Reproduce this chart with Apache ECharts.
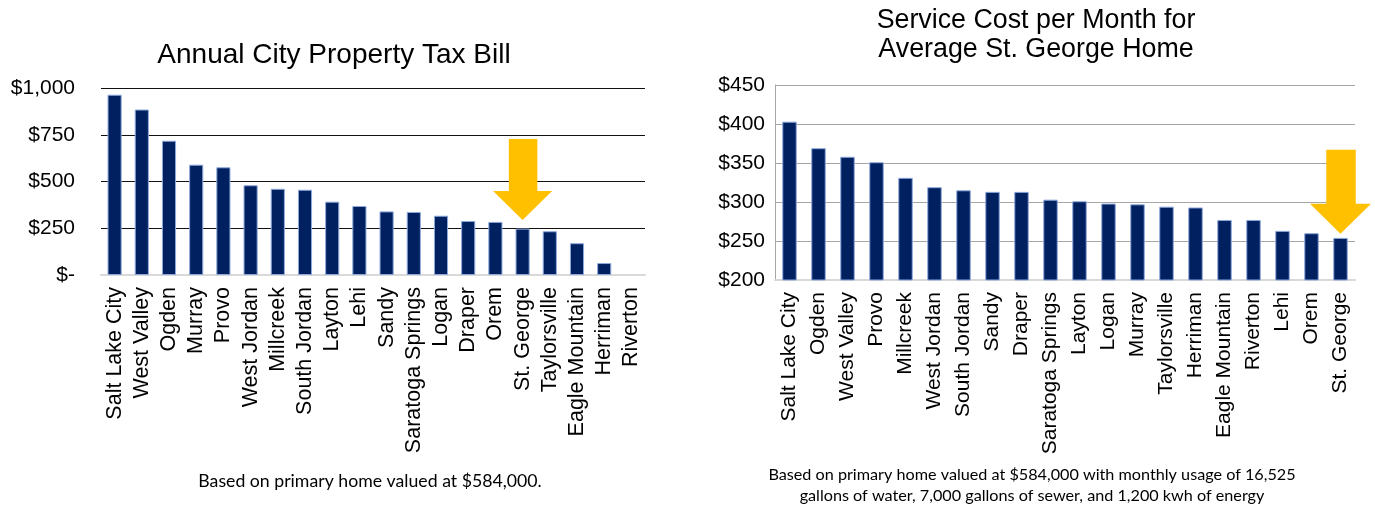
<!DOCTYPE html>
<html>
<head>
<meta charset="utf-8">
<script src="https://cdn.jsdelivr.net/npm/echarts@6/dist/echarts.min.js"></script>
<style>
html,body{margin:0;padding:0;background:#fff;}
#chart{width:1375px;height:508px;}
</style>
</head>
<body>
<div id="chart"></div>
<script>
// ---- Data ----
const taxCities = ['Salt Lake City','West Valley','Ogden','Murray','Provo','West Jordan','Millcreek','South Jordan','Layton','Lehi','Sandy','Saratoga Springs','Logan','Draper','Orem','St. George','Taylorsville','Eagle Mountain','Herriman','Riverton'];
const taxValues = [964, 885, 718, 590, 576, 480, 461, 456, 392, 369, 340, 337, 317, 289, 284, 248, 234, 170, 64, 0];
const taxTicks = [0, 250, 500, 750, 1000];

const costCities = ['Salt Lake City','Ogden','West Valley','Provo','Millcreek','West Jordan','South Jordan','Sandy','Draper','Saratoga Springs','Layton','Logan','Murray','Taylorsville','Herriman','Eagle Mountain','Riverton','Lehi','Orem','St. George'];
const costValues = [403, 369, 358, 351, 331, 319, 315, 313, 313, 303, 301, 298, 297, 294, 293, 277, 277, 263, 260, 254];
const costTicks = [200, 250, 300, 350, 400, 450];

const highlightCity = 'St. George';

// ---- Chart ----
const chart = echarts.init(document.getElementById('chart'), null, {renderer: 'canvas'});
const FONT = '"Liberation Sans", Arial, sans-serif';
const NOTE_FONT = 'Lato, "Open Sans", sans-serif';
const arrowPath = 'path://M16,0 L45,0 L45,54 L60,54 L30,84 L0,54 L16,54 Z';

function money(v) {
  return v === 0 ? '$-' : '$' + v.toLocaleString('en-US');
}
function barItems(values) {
  return values.map(v => v === 0 ? {value: v, itemStyle: {borderWidth: 0}} : v);
}

const option = {
  backgroundColor: '#ffffff',
  animation: false,
  title: [
    {text: 'Annual City Property Tax Bill', left: 329, top: 36, textAlign: 'center',
     textStyle: {fontFamily: FONT, fontSize: 28, fontWeight: 'normal', color: '#000', lineHeight: 28}},
    {text: 'Service Cost per Month for\nAverage St. George Home', left: 1031, top: 1, textAlign: 'center',
     textStyle: {fontFamily: FONT, fontSize: 26.8, fontWeight: 'normal', color: '#000', lineHeight: 29}},
    {text: 'Based on primary home valued at $584,000.', left: 365, top: 467, textAlign: 'center',
     textStyle: {fontFamily: NOTE_FONT, fontSize: 17.7, fontWeight: 'normal', color: '#000', lineHeight: 18}},
    {text: 'Based on primary home valued at $584,000 with monthly usage of 16,525\ngallons of water, 7,000 gallons of sewer, and 1,200 kwh of energy',
     left: 1027, top: 459, textAlign: 'center',
     textStyle: {fontFamily: NOTE_FONT, fontSize: 16.2, fontWeight: 'normal', color: '#000', lineHeight: 21}}
  ],
  grid: [
    {left: 101, top: 88, width: 544, height: 187, containLabel: false},
    {left: 775, top: 85, width: 580, height: 195, containLabel: false}
  ],
  xAxis: [
    {type: 'category', gridIndex: 0, data: taxCities,
     axisLine: {show: true, lineStyle: {color: '#d9d9d9', width: 2}},
     axisTick: {show: false},
     axisLabel: {rotate: 90, interval: 0, margin: 12, fontFamily: FONT, fontSize: 21.5, color: '#000'}},
    {type: 'category', gridIndex: 1, data: costCities,
     axisLine: {show: true, lineStyle: {color: '#d9d9d9', width: 2}},
     axisTick: {show: false},
     axisLabel: {rotate: 90, interval: 0, margin: 12, fontFamily: FONT, fontSize: 21, color: '#000'}}
  ],
  yAxis: [
    {type: 'value', gridIndex: 0, min: taxTicks[0], max: taxTicks[taxTicks.length - 1], interval: taxTicks[1] - taxTicks[0],
     axisLine: {show: false}, axisTick: {show: false},
     splitLine: {show: true, lineStyle: {color: '#111', width: 1.2}},
     axisLabel: {margin: 26, fontFamily: FONT, fontSize: 21, color: '#000', formatter: money}},
    {type: 'value', gridIndex: 1, min: costTicks[0], max: costTicks[costTicks.length - 1], interval: costTicks[1] - costTicks[0],
     axisLine: {show: true, lineStyle: {color: '#a6a6a6', width: 1}}, axisTick: {show: false},
     splitLine: {show: true, lineStyle: {color: '#a6a6a6', width: 1}},
     axisLabel: {margin: 10, fontFamily: FONT, fontSize: 21, color: '#000', formatter: money}}
  ],
  series: [
    {type: 'bar', xAxisIndex: 0, yAxisIndex: 0, data: barItems(taxValues), barWidth: '52%',
     itemStyle: {color: '#002060', borderColor: '#8fa9dc', borderWidth: 1},
     markPoint: {symbol: arrowPath, symbolSize: [59, 81], symbolKeepAspect: false,
       itemStyle: {color: '#FFC000', borderWidth: 0}, label: {show: false},
       data: [{coord: [highlightCity, 511]}]}},
    {type: 'bar', xAxisIndex: 1, yAxisIndex: 1, data: barItems(costValues), barWidth: '50%',
     itemStyle: {color: '#002060', borderColor: '#8fa9dc', borderWidth: 1},
     markPoint: {symbol: arrowPath, symbolSize: [61, 84], symbolKeepAspect: false,
       itemStyle: {color: '#FFC000', borderWidth: 0}, label: {show: false},
       data: [{coord: [highlightCity, 313]}]}}
  ]
};
chart.setOption(option);
</script>
</body>
</html>
